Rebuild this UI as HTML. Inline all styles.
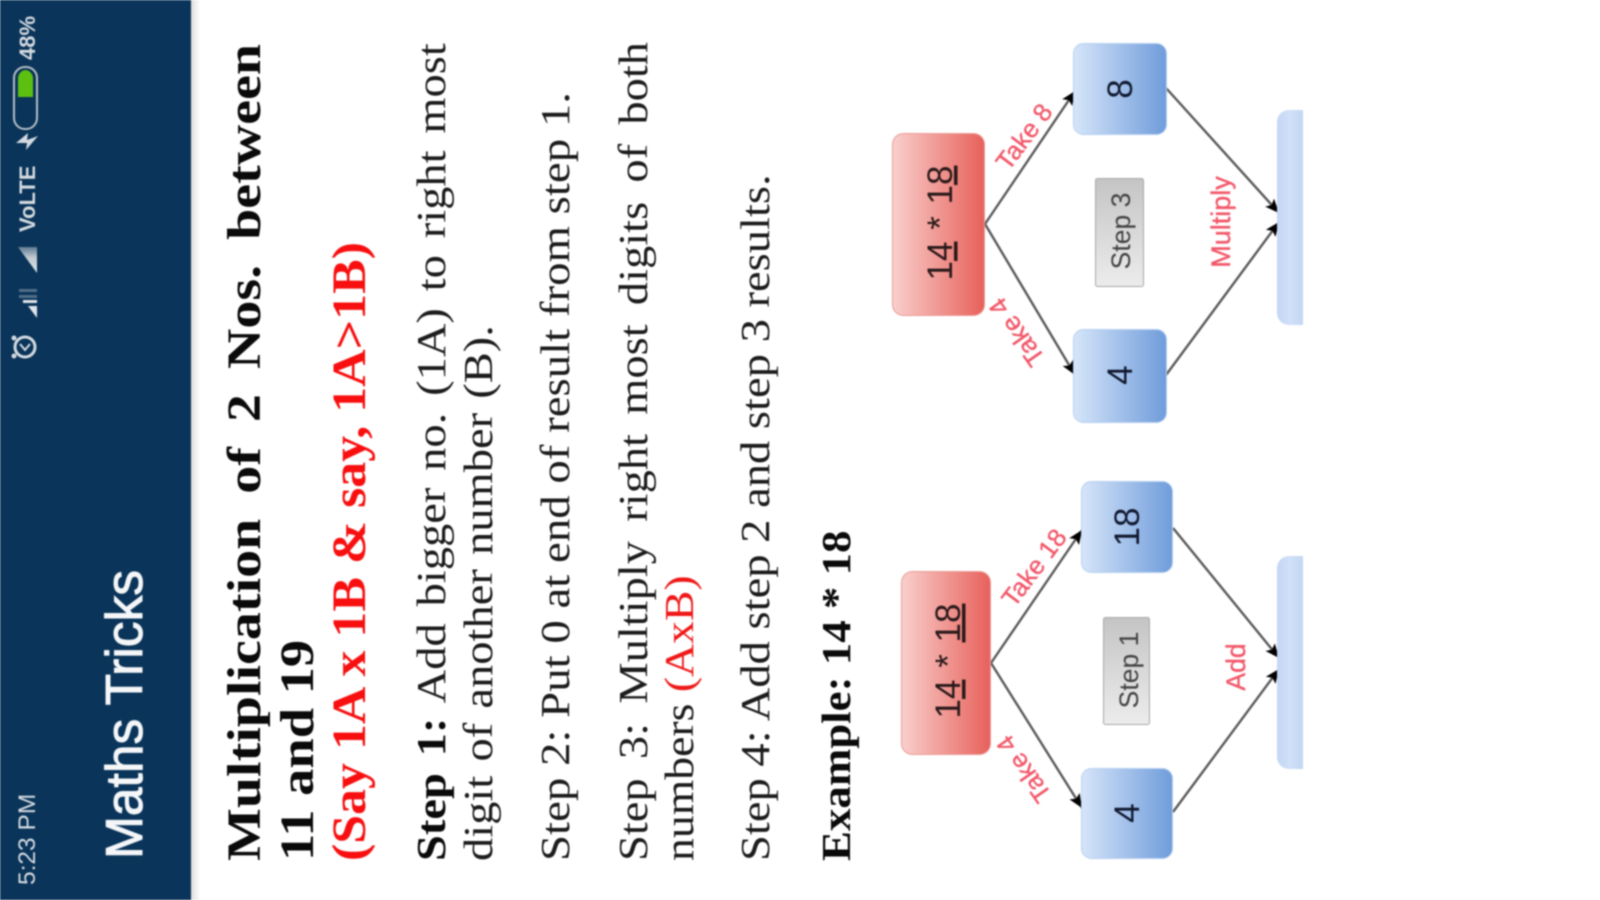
<!DOCTYPE html>
<html><head><meta charset="utf-8"><title>Maths Tricks</title>
<style>
html,body{margin:0;padding:0;background:#fff;width:1600px;height:900px;overflow:hidden}
svg{display:block;position:absolute;left:0;top:0;filter:blur(0.9px)}
.s{font-family:"Liberation Serif",serif;fill:#1c1c1c}
.b{font-weight:bold;fill:#0a0a0a}
.a{font-family:"Liberation Sans",sans-serif}
.red{fill:#f2586a;stroke:#f2586a;stroke-width:0.35}
</style></head><body>
<svg width="1600" height="900" viewBox="0 0 1600 900" xmlns="http://www.w3.org/2000/svg">
<defs>
<linearGradient id="rg"><stop offset="0" stop-color="#f9cfcc"/><stop offset="1" stop-color="#e7605a"/></linearGradient>
<linearGradient id="bg"><stop offset="0" stop-color="#d6e5f9"/><stop offset="1" stop-color="#6f9cdb"/></linearGradient>
<linearGradient id="gg" x1="0" y1="0" x2="0" y2="1"><stop offset="0" stop-color="#c4c4c4"/><stop offset="1" stop-color="#ececec"/></linearGradient>
<linearGradient id="lg"><stop offset="0" stop-color="#c3d6f3"/><stop offset="0.5" stop-color="#d0e0f8"/><stop offset="1" stop-color="#c3d6f3"/></linearGradient>
<linearGradient id="sh"><stop offset="0" stop-color="#dcdcdc"/><stop offset="1" stop-color="#fff"/></linearGradient>
<linearGradient id="sig" x1="0" y1="1" x2="0" y2="0"><stop offset="0" stop-color="#dfe4e8"/><stop offset="0.6" stop-color="#c0c8d0"/><stop offset="1" stop-color="#5f7a92"/></linearGradient>
<marker id="ar" markerUnits="userSpaceOnUse" markerWidth="16" markerHeight="14" refX="14" refY="6" orient="auto"><path d="M0,0 L14,6 L0,12 L3,6 Z" fill="#000"/></marker>
</defs>

<!-- header -->
<rect x="0" y="0" width="191" height="900" fill="#0a3459"/>
<rect x="191" y="0" width="9" height="900" fill="url(#sh)"/>

<!-- status bar -->
<text class="a" transform="translate(35,885) rotate(-90)" font-size="24.5" fill="#d3dae0">5:23 PM</text>
<text class="a" transform="translate(35,60) rotate(-90)" font-size="22" font-weight="bold" fill="#d3dae0">48%</text>
<text class="a" transform="translate(35,232) rotate(-90)" font-size="22" font-weight="bold" fill="#d3dae0">VoLTE</text>
<rect x="14" y="67" width="23" height="62" rx="11" fill="none" stroke="#b5bec6" stroke-width="2"/>
<path d="M18,97 V80 a8,9 0 0 1 7,-10 h1 a8,9 0 0 1 7,10 V97 Z" fill="#5cc010"/>
<path d="M16,143 L28,133 L27,140 L38,136 L26,150 L27,143 Z" fill="#d3dae0"/>
<path d="M37,273 L18,247 H37 Z" fill="url(#sig)"/>
<path d="M37,318 L28,306 H37 Z" fill="#dfe4e8"/>
<rect x="23" y="300" width="14" height="3" fill="#dfe4e8"/>
<rect x="19" y="295" width="18" height="3" fill="#4f6d88"/>
<rect x="19" y="289" width="18" height="3" fill="#4f6d88"/>
<circle cx="25" cy="347" r="10" fill="none" stroke="#d3dae0" stroke-width="3"/>
<path d="M20,344 L25,350 L30,344" fill="none" stroke="#d3dae0" stroke-width="2"/>
<circle cx="14" cy="338" r="2.5" fill="#d3dae0"/><circle cx="14" cy="356" r="2.5" fill="#d3dae0"/>

<text class="a" transform="translate(142,859) rotate(-90)" font-size="51.5" fill="#f4f6f8" stroke="#f4f6f8" stroke-width="1">Maths Tricks</text>

<!-- text block -->
<text class="s b" transform="translate(260,861) rotate(-90) scale(1.167,1)" font-size="48" style="word-spacing:9.4px">Multiplication of 2 Nos. between</text>
<text class="s b" transform="translate(313,861) rotate(-90) scale(1.136,1)" font-size="48">11 and 19</text>
<text class="s b" transform="translate(365,861) rotate(-90) scale(1.081,1)" font-size="48" style="fill:#f80f0f">(Say 1A x 1B &amp; say, 1A&gt;1B)</text>

<text class="s" transform="translate(445,861) rotate(-90) scale(1.134,1)" font-size="41" style="word-spacing:4.6px"><tspan class="b">Step 1:</tspan> Add bigger no. (1A) to right most</text>
<text class="s" transform="translate(492,861) rotate(-90) scale(1.134,1)" font-size="41" style="word-spacing:2.3px">digit of another number (B).</text>
<text class="s" transform="translate(569,861) rotate(-90) scale(1.143,1)" font-size="41">Step 2: Put 0 at end of result from step 1.</text>
<text class="s" transform="translate(647,861) rotate(-90) scale(1.134,1)" font-size="41" style="word-spacing:6.7px">Step 3: Multiply right most digits of both</text>
<text class="s" transform="translate(693,861) rotate(-90) scale(1.115,1)" font-size="41">numbers <tspan style="fill:#f01818">(AxB)</tspan></text>
<text class="s" transform="translate(769,861) rotate(-90) scale(1.136,1)" font-size="41">Step 4: Add step 2 and step 3 results.</text>
<text class="s b" transform="translate(850,861) rotate(-90) scale(1.095,1)" font-size="41">Example: 14 * 18</text>

<!-- diagram: step 3 -->
<g stroke="#5a5a5a" stroke-width="2.4" fill="none">
<line x1="985" y1="224" x2="1075" y2="91" marker-end="url(#ar)"/>
<line x1="985" y1="224" x2="1075" y2="375" marker-end="url(#ar)"/>
<line x1="1166" y1="88" x2="1279" y2="213" marker-end="url(#ar)"/>
<line x1="1166" y1="375" x2="1279" y2="222" marker-end="url(#ar)"/>
</g>
<rect x="892.5" y="133.5" width="92" height="182" rx="11" fill="url(#rg)" stroke="#eb9c98"/>
<rect x="1073.5" y="43.5" width="93" height="91" rx="10" fill="url(#bg)" stroke="#b8d0f0"/>
<rect x="1073.5" y="329.5" width="93" height="93" rx="10" fill="url(#bg)" stroke="#b8d0f0"/>
<rect x="1095.5" y="178.5" width="48" height="108" rx="2" fill="url(#gg)" stroke="#a8a8a8"/>
<path d="M1303,110 H1289 A12,12 0 0 0 1277,122 V313 A12,12 0 0 0 1289,325 H1303 Z" fill="url(#lg)"/>
<text class="a" text-anchor="middle" transform="translate(952,223) rotate(-90)" font-size="35" fill="#2a1a1a" style="word-spacing:2px">1<tspan style="text-decoration:underline">4</tspan> * 1<tspan style="text-decoration:underline">8</tspan></text>
<text class="a" text-anchor="middle" transform="translate(1132,89) rotate(-90)" font-size="35" fill="#111a30">8</text>
<text class="a" text-anchor="middle" transform="translate(1132,375) rotate(-90)" font-size="35" fill="#111a30">4</text>
<text class="a" text-anchor="middle" transform="translate(1130,231) rotate(-90)" font-size="26.5" fill="#444">Step 3</text>
<text class="a red" text-anchor="middle" transform="translate(1031,142) rotate(-53)" font-size="25.5">Take 8</text>
<text class="a red" text-anchor="middle" transform="translate(1024,327) rotate(-125)" font-size="26">Take 4</text>
<text class="a red" text-anchor="middle" transform="translate(1230,222) rotate(-90)" font-size="27">Multiply</text>

<!-- diagram: step 1 -->
<g stroke="#5a5a5a" stroke-width="2.4" fill="none">
<line x1="991" y1="663" x2="1082" y2="530" marker-end="url(#ar)"/>
<line x1="991" y1="663" x2="1082" y2="808" marker-end="url(#ar)"/>
<line x1="1173" y1="528" x2="1279" y2="658" marker-end="url(#ar)"/>
<line x1="1173" y1="812" x2="1279" y2="669" marker-end="url(#ar)"/>
</g>
<rect x="901.5" y="571.5" width="89" height="183" rx="11" fill="url(#rg)" stroke="#eb9c98"/>
<rect x="1081.5" y="481.5" width="91" height="91" rx="10" fill="url(#bg)" stroke="#b8d0f0"/>
<rect x="1081.5" y="768.5" width="91" height="90" rx="10" fill="url(#bg)" stroke="#b8d0f0"/>
<rect x="1103.5" y="617.5" width="46" height="107" rx="2" fill="url(#gg)" stroke="#a8a8a8"/>
<path d="M1303,556 H1289 A12,12 0 0 0 1277,568 V757 A12,12 0 0 0 1289,769 H1303 Z" fill="url(#lg)"/>
<text class="a" text-anchor="middle" transform="translate(960,661) rotate(-90)" font-size="35" fill="#2a1a1a" style="word-spacing:2px">1<tspan style="text-decoration:underline">4</tspan> * <tspan style="text-decoration:underline">18</tspan></text>
<text class="a" text-anchor="middle" transform="translate(1139,527) rotate(-90)" font-size="35" fill="#111a30">18</text>
<text class="a" text-anchor="middle" transform="translate(1139,813) rotate(-90)" font-size="35" fill="#111a30">4</text>
<text class="a" text-anchor="middle" transform="translate(1138,670) rotate(-90)" font-size="26.5" fill="#444">Step 1</text>
<text class="a red" text-anchor="middle" transform="translate(1041,573) rotate(-53)" font-size="25.5">Take 18</text>
<text class="a red" text-anchor="middle" transform="translate(1031,764) rotate(-125)" font-size="25.5">Take 4</text>
<text class="a red" text-anchor="middle" transform="translate(1245,667) rotate(-90)" font-size="26.5">Add</text>
</svg>
</body></html>
